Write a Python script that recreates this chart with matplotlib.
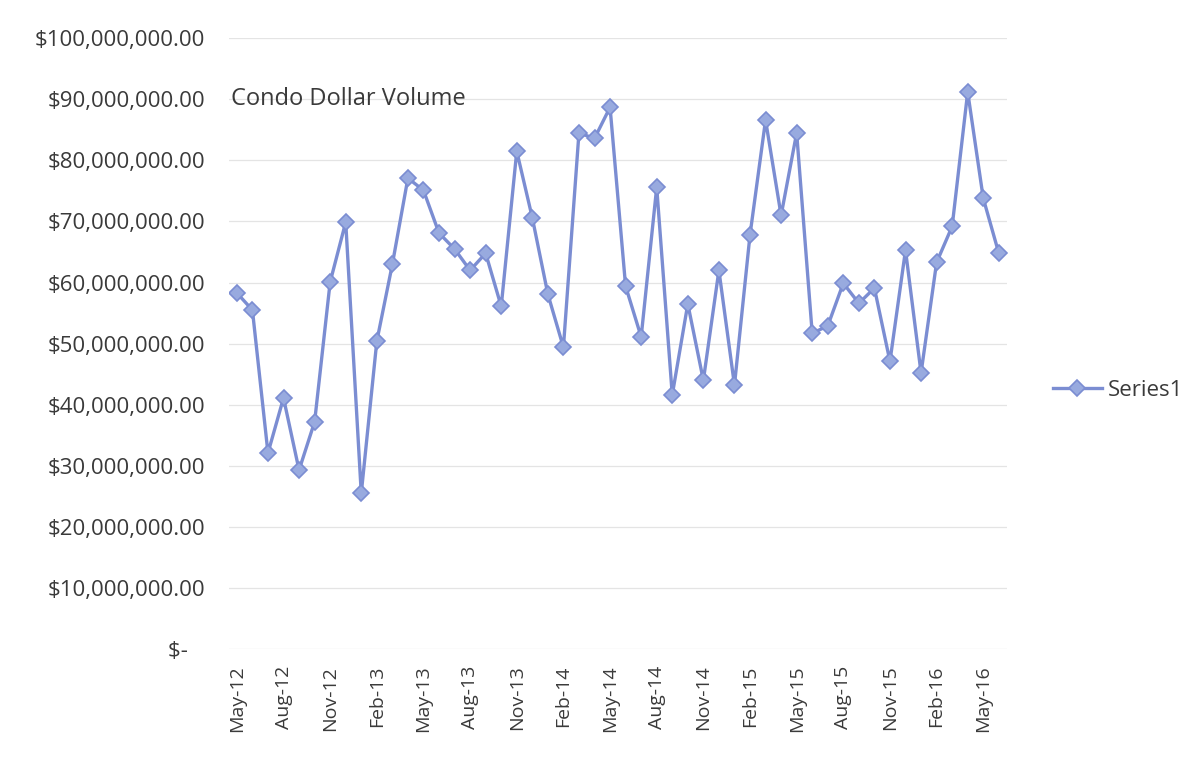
import matplotlib
matplotlib.use("Agg")
import matplotlib.pyplot as plt
from matplotlib.ticker import FuncFormatter

# monthly condo dollar volume, May-12 .. Jun-16 (millions)
months = ["May-12", "Jun-12", "Jul-12", "Aug-12", "Sep-12", "Oct-12", "Nov-12", "Dec-12",
          "Jan-13", "Feb-13", "Mar-13", "Apr-13", "May-13", "Jun-13", "Jul-13", "Aug-13",
          "Sep-13", "Oct-13", "Nov-13", "Dec-13", "Jan-14", "Feb-14", "Mar-14", "Apr-14",
          "May-14", "Jun-14", "Jul-14", "Aug-14", "Sep-14", "Oct-14", "Nov-14", "Dec-14",
          "Jan-15", "Feb-15", "Mar-15", "Apr-15", "May-15", "Jun-15", "Jul-15", "Aug-15",
          "Sep-15", "Oct-15", "Nov-15", "Dec-15", "Jan-16", "Feb-16", "Mar-16", "Apr-16",
          "May-16", "Jun-16"]
volume_m = [58.3, 55.5, 32.1, 41.1, 29.3, 37.2, 60.1, 69.9, 25.5, 50.4,
            63.0, 77.1, 75.1, 68.1, 65.5, 62.0, 64.8, 56.1, 81.5, 70.6,
            58.1, 49.4, 84.5, 83.6, 88.7, 59.4, 51.1, 75.6, 41.6, 56.5,
            44.0, 62.0, 43.2, 67.8, 86.6, 71.0, 84.5, 51.7, 52.9, 59.9,
            56.6, 59.1, 47.1, 65.3, 45.2, 63.3, 69.2, 91.2, 73.8, 64.8]
volume = [v * 1e6 for v in volume_m]

line_color = "#7b8dd2"
marker_face = "#98aadf"
text_color = "#3a3a3a"

plt.rcParams["font.family"] = ["Open Sans", "DejaVu Sans"]

fig = plt.figure(figsize=(11.87, 7.65), dpi=100)
ax = fig.add_axes([0.193, 0.1516, 0.655, 0.7984])

x = list(range(len(months)))
ax.plot(x, volume, color=line_color, linewidth=2.4, marker="D", markersize=8,
        markerfacecolor=marker_face, markeredgecolor=line_color, markeredgewidth=1.2,
        label="Series1", zorder=3)

ax.set_ylim(0, 100e6)
ax.set_yticks([i * 10e6 for i in range(11)])
ax.yaxis.set_major_formatter(FuncFormatter(
    lambda v, _: "$-   " if v == 0 else f"${v:,.2f}"))
ax.set_xlim(-0.5, len(months) - 0.5)
ax.set_xticks(x[::3])
ax.set_xticklabels(months[::3], rotation=90)

ax.grid(axis="y", color="#e4e4e4", linewidth=0.9)
ax.set_axisbelow(True)
for s in ax.spines.values():
    s.set_visible(False)
ax.tick_params(axis="y", length=0, pad=17, labelsize=16, labelcolor=text_color)
ax.tick_params(axis="x", length=0, pad=12, labelsize=14, labelcolor=text_color)

ax.text(0.003, 0.9, "Condo Dollar Volume", transform=ax.transAxes,
        fontsize=17, color=text_color, ha="left", va="center")

fig.legend(loc="center left", bbox_to_anchor=(0.87, 0.49), frameon=False,
           fontsize=16, handlelength=2.2, handletextpad=0.3, labelcolor=text_color)

fig.savefig("out.png", dpi=100)
